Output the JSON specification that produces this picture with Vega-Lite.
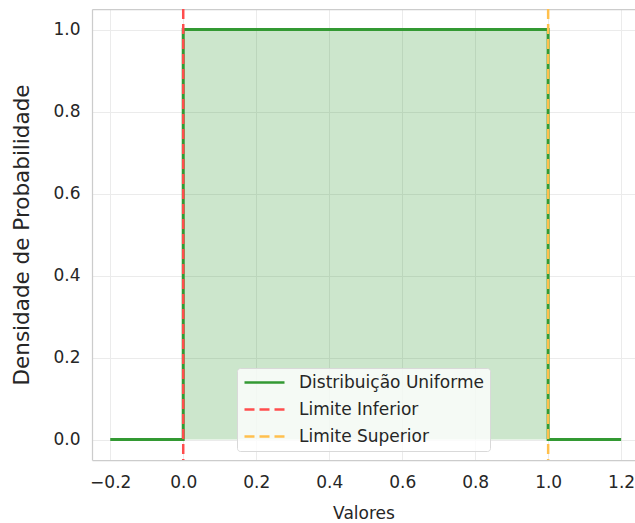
{
  "$schema": "https://vega.github.io/schema/vega-lite/v6.json",
  "autosize": "none",
  "width": 543,
  "height": 451,
  "padding": {"left": 92, "top": 9, "right": 0, "bottom": 63},
  "background": "white",
  "config": {
    "font": "DejaVu Sans",
    "view": {"stroke": null},
    "axis": {
      "labelFont": "DejaVu Sans",
      "titleFont": "DejaVu Sans",
      "labelColor": "#262626",
      "titleColor": "#262626",
      "titleFontWeight": "normal",
      "labelFontSize": 17,
      "ticks": false,
      "domainColor": "#cccccc",
      "domainWidth": 1.25,
      "gridColor": "#ebebeb",
      "gridWidth": 1
    },
    "legend": {
      "labelFont": "DejaVu Sans",
      "labelFontSize": 17,
      "labelColor": "#262626",
      "labelLimit": 400
    }
  },
  "datasets": {
    "pdf": [
      {"i": 0, "x": -0.2, "y": 0, "serie": "Distribuição Uniforme"},
      {"i": 1, "x": 0.0, "y": 0, "serie": "Distribuição Uniforme"},
      {"i": 2, "x": 0.0, "y": 1, "serie": "Distribuição Uniforme"},
      {"i": 3, "x": 1.0, "y": 1, "serie": "Distribuição Uniforme"},
      {"i": 4, "x": 1.0, "y": 0, "serie": "Distribuição Uniforme"},
      {"i": 5, "x": 1.2, "y": 0, "serie": "Distribuição Uniforme"}
    ],
    "fill": [
      {"x": 0.0, "y": 1},
      {"x": 1.0, "y": 1}
    ],
    "limits": [
      {"x": 0.0, "serie": "Limite Inferior"},
      {"x": 1.0, "serie": "Limite Superior"}
    ]
  },
  "layer": [
    {
      "data": {"name": "fill"},
      "mark": {"type": "area", "color": "green", "opacity": 0.2},
      "encoding": {
        "x": {
          "field": "x", "type": "quantitative",
          "scale": {"domain": [-0.25, 1.238], "nice": false, "zero": false},
          "axis": {
            "title": "Valores",
            "titleFontSize": 17,
            "titlePadding": 15,
            "values": [-0.2, 0, 0.2, 0.4, 0.6, 0.8, 1.0, 1.2],
            "format": ".1f",
            "labelPadding": 14,
            "grid": true,
            "domain": true
          }
        },
        "y": {
          "field": "y", "type": "quantitative",
          "scale": {"domain": [-0.05, 1.05], "nice": false, "zero": false},
          "axis": {
            "title": "Densidade de Probabilidade",
            "titleFontSize": 21.5,
            "titlePadding": 19,
            "values": [0, 0.2, 0.4, 0.6, 0.8, 1.0, 1.05],
            "labelExpr": "datum.value > 1.01 ? '' : format(datum.value, '.1f')",
            "labelPadding": 12,
            "grid": true,
            "gridColor": {"condition": {"test": "datum.value > 1.01", "value": "#cccccc"}, "value": "#ebebeb"},
            "gridWidth": {"condition": {"test": "datum.value > 1.01", "value": 1.25}, "value": 1},
            "domain": true
          }
        },
        "y2": {"datum": 0}
      }
    },
    {
      "data": {"name": "pdf"},
      "mark": {"type": "line", "strokeWidth": 3},
      "encoding": {
        "x": {"field": "x", "type": "quantitative"},
        "y": {"field": "y", "type": "quantitative"},
        "order": {"field": "i", "type": "quantitative"},
        "color": {
          "field": "serie", "type": "nominal",
          "scale": {
            "domain": ["Distribuição Uniforme", "Limite Inferior", "Limite Superior"],
            "range": ["#339933", "#ff4d4d", "#ffc04d"]
          },
          "legend": {
            "title": null,
            "orient": "none",
            "legendX": 145,
            "legendY": 359,
            "symbolType": "stroke",
            "symbolSize": 1600,
            "symbolStrokeWidth": 2.5,
            "clipHeight": 17,
            "rowPadding": 9,
            "labelOffset": 13,
            "padding": 6,
            "fillColor": "rgba(255,255,255,0.8)",
            "strokeColor": "#d9d9d9",
            "cornerRadius": 3
          }
        },
        "strokeDash": {
          "field": "serie", "type": "nominal",
          "scale": {
            "domain": ["Distribuição Uniforme", "Limite Inferior", "Limite Superior"],
            "range": [[1, 0], [10, 5], [10, 5]]
          },
          "legend": null
        }
      }
    },
    {
      "data": {"name": "limits"},
      "mark": {"type": "rule", "strokeWidth": 2.5},
      "encoding": {
        "x": {"field": "x", "type": "quantitative"},
        "color": {"field": "serie", "type": "nominal"},
        "strokeDash": {"field": "serie", "type": "nominal", "legend": null}
      }
    }
  ]
}
